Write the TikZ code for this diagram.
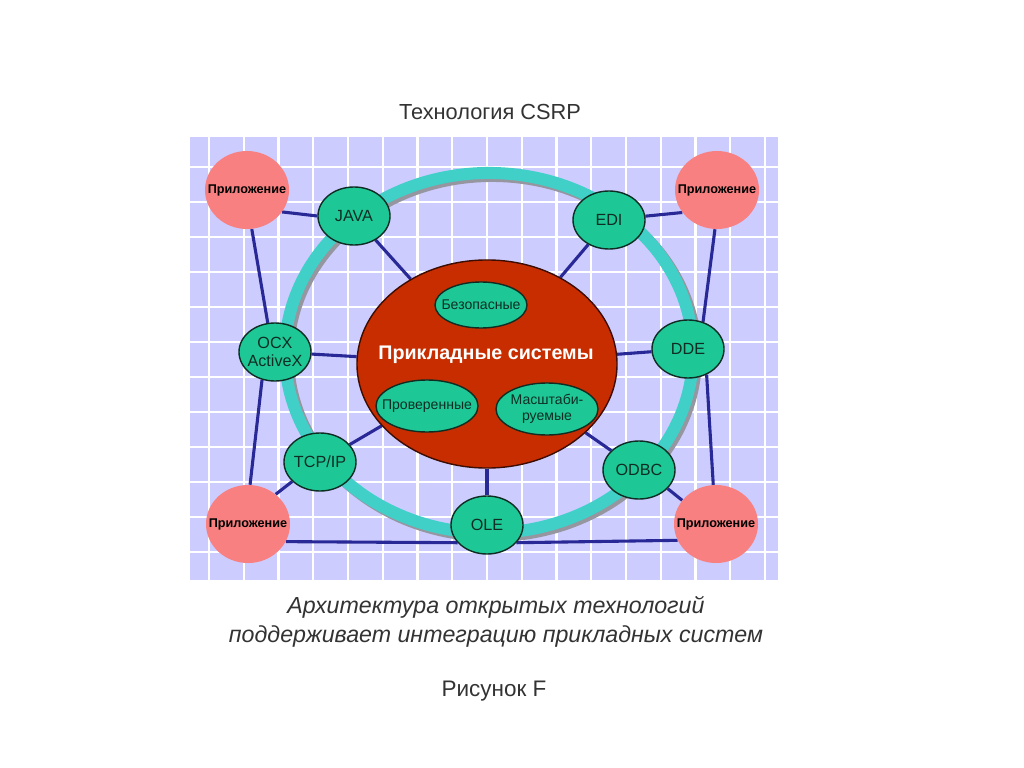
\documentclass[tikz,border=0pt]{standalone}
\usepackage{fontspec}
\setmainfont{Liberation Sans}
\usepackage{tikz}
\usetikzlibrary{shapes.geometric, backgrounds}
\definecolor{gridlilac}{RGB}{204,204,255}
\definecolor{apppink}{RGB}{248,128,128}
\definecolor{techgreen}{RGB}{30,200,150}
\definecolor{ringcyan}{RGB}{64,208,200}
\definecolor{ringshadow}{RGB}{150,150,160}
\definecolor{corered}{RGB}{200,45,0}
\definecolor{linknavy}{RGB}{40,40,150}
\definecolor{techborder}{RGB}{15,45,35}
\tikzset{
  app/.style={ellipse, fill=apppink, minimum width=2.1cm, minimum height=1.95cm, inner sep=0pt,
    label={[font=\fontsize{9}{10}\selectfont\bfseries]center:#1}},
  tech/.style={ellipse, draw=techborder, line width=1pt, fill=techgreen, minimum width=1.8cm,
    minimum height=1.45cm, inner sep=0pt,
    label={[align=center, text=techborder, font=\fontsize{11.5}{12.5}\selectfont]center:#1}},
  prop/.style={ellipse, draw=techborder, line width=1pt, fill=techgreen, minimum width=2.55cm,
    minimum height=1.3cm, inner sep=0pt,
    label={[align=center, text=techborder, font=\fontsize{10}{11}\selectfont]center:#1}},
  link/.style={draw=linknavy, line width=2.2pt},
  gridline/.style={white, line width=1.5pt}
}

\begin{document}
\begin{tikzpicture}[x=0.025cm, y=-0.025cm]
    \useasboundingbox (0,0) rectangle (1024,768);
    % Titolo
    \node[font=\fontsize{15.5}{18}\selectfont, text=black!80] (title) at (490,112) {Технология CSRP};
    % Sistema centrale
    \node[ellipse, draw=black!70!corered, line width=1pt, fill=corered, minimum width=6.5cm,
      minimum height=5.2cm, inner sep=0pt] (core) at (487,364) {};
    \node[text=white, font=\fontsize{14}{16}\selectfont\bfseries] (coretext) at (486,355) {Прикладные системы};
    \node[prop={Безопасные}, minimum width=2.3cm, minimum height=1.15cm] (safe) at (481,305) {};
    \node[prop={Проверенные}] (proven) at (427,406) {};
    \node[prop={Масштаби-\\руемые}] (scalable) at (547,409) {};
    % Tecnologie sull'anello
    \node[tech={JAVA}] (java) at (354,216) {};
    \node[tech={EDI}] (edi) at (609,220) {};
    \node[tech={OCX\\ActiveX}] (ocx) at (275,352) {};
    \node[tech={DDE}] (dde) at (688,349) {};
    \node[tech={TCP/IP}] (tcpip) at (320,462) {};
    \node[tech={ODBC}] (odbc) at (639,470) {};
    \node[tech={OLE}] (ole) at (487,525) {};
    % Applicazioni
    \node[app={Приложение}] (apptl) at (247,190) {};
    \node[app={Приложение}] (apptr) at (717,190) {};
    \node[app={Приложение}] (appbl) at (248,524) {};
    \node[app={Приложение}] (appbr) at (716,524) {};
    % Didascalia
    \node[font=\fontsize{16.5}{20.5}\selectfont\itshape, text=black!80, align=center] (caption) at (496,622)
      {Архитектура открытых технологий\\поддерживает интеграцию прикладных систем};
    \node[font=\fontsize{16}{18}\selectfont, text=black!80] (figname) at (494,691) {Рисунок F};
    \begin{scope}[on background layer]
        % Sfondo a griglia
        \fill[gridlilac] (190,137) rectangle (778,580);
        \foreach \gx in {0,...,16}
            \draw[gridline] ({209+34.75*\gx},137) -- ({209+34.75*\gx},580);
        \foreach \gy in {0,...,11}
            \draw[gridline] (190,{167+35*\gy}) -- (778,{167+35*\gy});
        % Anello
        \draw[ringshadow, line width=0.3cm] (492,356) ellipse [x radius=5.1cm, y radius=4.5cm];
        \draw[ringcyan, line width=0.3cm] (489,353) ellipse [x radius=5.1cm, y radius=4.5cm];
        % Collegamenti
        \draw[link] (java) -- (core);
        \draw[link] (edi) -- (core);
        \draw[link] (ocx) -- (core);
        \draw[link] (dde) -- (core);
        \draw[link] (tcpip) -- (core);
        \draw[link] (odbc) -- (core);
        \draw[link] (ole) -- (core);
        \draw[link] (apptl.-32) -- (java.180);
        \draw[link] (apptl.-83) -- (ocx.104);
        \draw[link] (apptr.-147) -- (edi.6);
        \draw[link] (apptr.-93) -- (dde.61);
        \draw[link] (appbl.87) -- (ocx.-115);
        \draw[link] (appbl.47) -- (tcpip.215);
        \draw[link] (appbl.-25) -- (ole.-149);
        \draw[link] (appbr.-157) -- (ole.-31);
        \draw[link] (appbr.145) -- (odbc.-33);
        \draw[link] (appbr.94) -- (dde.-54);
    \end{scope}
\end{tikzpicture}
\end{document}
